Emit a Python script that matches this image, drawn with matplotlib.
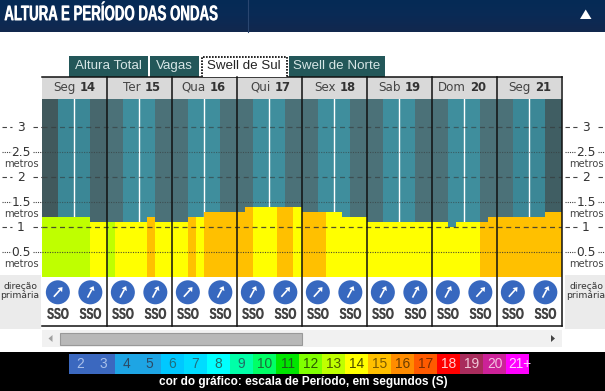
import numpy as np
import matplotlib
matplotlib.use('Agg')
import matplotlib.pyplot as plt
from matplotlib.patches import Circle, Rectangle, Polygon
from matplotlib.colors import LinearSegmentedColormap
from matplotlib.patheffects import AbstractPathEffect
from matplotlib.transforms import Affine2D

# ---------- data ----------
days = ['Seg', 'Ter', 'Qua', 'Qui', 'Sex', 'Sab', 'Dom', 'Seg']
dates = ['14', '15', '16', '17', '18', '19', '20', '21']
heights = [1.2,1.2,1.2,1.2,1.2,1.2,1.1,1.1,
           1.1,1.1,1.1,1.1,1.1,1.2,1.1,1.1,
           1.1,1.1,1.2,1.2,1.3,1.3,1.3,1.3,
           1.3,1.4,1.4,1.4,1.4,1.4,1.4,1.4,
           1.3,1.3,1.3,1.3,1.3,1.2,1.2,1.2,
           1.1,1.1,1.1,1.1,1.1,1.1,1.1,1.1,
           1.1,1.1,1.0,1.1,1.1,1.1,1.1,1.2,
           1.2,1.2,1.2,1.2,1.2,1.2,1.3,1.3]
periods = [13,13,13,13,13,13,14,14,
           13,14,14,14,14,15,14,14,
           14,14,15,14,15,15,15,15,
           15,15,14,14,14,15,15,14,
           15,15,15,14,14,14,14,14,
           14,14,14,14,14,14,14,14,
           14,14,14,14,14,14,15,15,
           15,15,15,15,15,15,15,15]
direction = ['SSO'] * 16
arrow_deg = [42, 28, 28, 28, 42, 28, 28, 42, 42, 28, 28, 28, 28, 42, 42, 28]
y_labels = [3, 2.5, 2, 1.5, 1, 0.5]
scale_labels = ['2','3','4','5','6','7','8','9','10','11','12','13','14','15','16','17','18','19','20','21+']
scale_colors = ['#3b68bf','#3b68bf','#1ea5e4','#1ea5e4','#00c8ff','#00dcff','#00ffff','#00ffa8',
                '#00ff66','#00e600','#80ff00','#bfff00','#ffff00','#ffc000','#ff8c00','#ff5a00',
                '#ff0000','#a82c5c','#cc2298','#ff00ff']
scale_text = ['#a9c0ea','#a9c0ea','#2b4a66','#2b4a66','#1f6f80','#1f6f80','#226b66','#226b66',
              '#1f6a3a','#1f5a1f','#2b5a00','#4a5a00','#4a4a00','#7a5a00','#6a3c00','#7a2c00',
              '#ffd0d0','#f0c8d8','#f4c0e0','#ffd0ff']
tabs = ['Altura Total', 'Vagas', 'Swell de Sul', 'Swell de Norte']
period_map = {int(k.rstrip('+')): c for k, c in zip(scale_labels, scale_colors)}

FONT = 'Liberation Sans'
W, H = 605, 391


class Squeeze(AbstractPathEffect):
    """Draw real text narrower, as the site's condensed font is not installed."""
    def __init__(self, sx, anchor, offsets=(0,)):
        super().__init__()
        self.sx, self.anchor, self.offsets = sx, anchor, offsets

    def draw_path(self, renderer, gc, tpath, affine, rgbFace=None):
        for dx in self.offsets:
            t = affine + Affine2D().translate(-self.anchor, 0).scale(self.sx, 1).translate(self.anchor + dx, 0)
            renderer.draw_path(gc, tpath, t, rgbFace)


fig = plt.figure(figsize=(W/100, H/100), dpi=100, facecolor='white')
page = fig.add_axes([0, 0, 1, 1])
page.set_xlim(0, W); page.set_ylim(H, 0); page.axis('off')


def rect(x0, y0, x1, y1, c, z=1, **kw):
    page.add_patch(Rectangle((x0, y0), x1-x0, y1-y0, fc=c, ec='none', zorder=z, **kw))


# title bar with gradient
grad = np.linspace(0, 1, 32)[:, None]
cm = LinearSegmentedColormap.from_list('nav', ['#052a55', '#0a2a55', '#12284e'])
page.imshow(grad, extent=(0, W, 32, 0), cmap=cm, aspect='auto', zorder=1)
page.set_xlim(0, W); page.set_ylim(H, 0)
page.plot([247.5, 247.5], [0, 32], color='#2a4670', lw=0.8, zorder=2)
page.text(4, 14.8, 'ALTURA E PERÍODO DAS ONDAS', color='white', fontsize=15.4, fontweight='bold',
          family=FONT, va='center', ha='left', zorder=3,
          path_effects=[Squeeze(0.62, 4, offsets=(0, 0.6))])
page.add_patch(Polygon([[580, 19], [591.5, 19], [585.7, 9.5]], fc='white', ec='none', zorder=3))

# tabs
tab_edges = [(69, 148), (150, 199), (201, 287), (289, 385)]
for name, (a, b) in zip(tabs, tab_edges):
    active = name == 'Swell de Sul'
    z = 7 if active else 2
    rect(a, 56, b, 77.4 if active else 77, 'white' if active else '#235759', z=z)
    if active:
        page.plot([a+.5, a+.5, b-.5, b-.5], [77, 56.5, 56.5, 77], color='black', lw=1.2,
                  ls=(0, (1, 0.8)), zorder=8)
    page.text((a+b)/2, 66.2, name, color='#222222' if active else '#d6e6e6', fontsize=9.6,
              family=FONT, ha='center', va='center', zorder=8)

# side gray boxes
rect(0, 275, 41, 329, '#ebebeb')
rect(565, 275, 605, 329, '#ebebeb')
for cx in (20, 586):
    page.text(cx, 290.8, 'direção\nprimária', color='#333333', fontsize=6.6, family='DejaVu Sans',
              ha='center', va='center', linespacing=1.05, zorder=3)

# header cells
x0, dw = 41.6, 65.0
rect(42, 77, 561, 98.5, '#d9d9d9')

# main chart axes, data scale: slot index and metres
top_v = (276.7 - 98.5) / 50.0
ax = fig.add_axes([x0/W, (H-276.7)/H, dw*8/W, (276.7-98.5)/H], facecolor='none')
ax.set_xlim(0, 64); ax.set_ylim(0, top_v); ax.axis('off')
slots = np.arange(64)
is_day = (slots % 8 >= 2) & (slots % 8 < 6)
edge_shades = {0: '#41595d', 1: '#41595d', 6: '#47676d', 7: '#47676d', 62: '#405e63', 63: '#405e63'}
for i in slots:
    if is_day[i]:
        col = '#3b8796' if i < 8 or i > 55 else '#3f8e9d'
    else:
        col = edge_shades.get(int(i), '#4b7178')
    ax.bar(i, top_v, width=1.02, align='edge', color=col, zorder=1, lw=0)
for d in range(8):
    ax.plot([d*8+4, d*8+4], [0, top_v], color='white', lw=1, zorder=2)
ax.bar(slots, heights, width=1.0, align='edge', color=[period_map[p] for p in periods], zorder=3, lw=0)
for v in y_labels:
    fade = 0.55 if v > 1.2 else 0.85
    if float(v).is_integer():
        ax.axhline(v, color='#333333', lw=0.9, ls=(0, (4, 3)), zorder=4, alpha=fade)
    else:
        ax.axhline(v, color='#333333', lw=0.8, ls=(0, (1, 1.2)), zorder=4, alpha=fade)
sep_page = [x0 + dw*d for d in range(1, 9)]
page.plot([42, 562], [76.5, 76.5], color='#111111', lw=1.1, zorder=6)
page.plot([42, 562], [326, 326], color='#111111', lw=1.1, zorder=6)
ax.set_zorder(2); page.set_zorder(1)

overlay = fig.add_axes([0, 0, 1, 1], facecolor='none')
overlay.set_xlim(0, W); overlay.set_ylim(H, 0); overlay.axis('off'); overlay.set_zorder(3)
for xp in sep_page:
    overlay.plot([xp, xp], [77, 326], color='#111111', lw=1.1, zorder=6)

# day header text
for d, (n, t) in enumerate(zip(days, dates)):
    c = x0 + dw*d + dw/2
    overlay.text(c+1.3, 87.3, n, ha='right', va='center', fontsize=8.6, family='DejaVu Sans', color='#444444')
    overlay.text(c+5.6, 87.3, t, ha='left', va='center', fontsize=8.4, family='DejaVu Sans', fontweight='bold', color='#333333')


# y labels both sides
def ylab(v, cx, left, right):
    y = 276.7 - v*50
    dashed = float(v).is_integer()
    style = (0, (4, 3)) if dashed else (0, (1, 1))
    hw = 9.5 if dashed else 10
    overlay.plot([left, cx-hw], [y, y], color='#444444', lw=0.8, ls=style)
    overlay.plot([cx+hw+2, right], [y, y], color='#444444', lw=0.8, ls=style)
    overlay.text(cx, y+0.4, f'{v:g}', ha='center', va='center', fontsize=8.8, family='DejaVu Sans', color='#333333')
    if not dashed:
        overlay.text(cx, y+12.7, 'metros', ha='center', va='center', fontsize=7.1, family='DejaVu Sans', color='#444444')


for v in y_labels:
    ylab(v, 21, 2, 42)
    ylab(v, 586, 565, 605)

# icons
for i, (lab, deg) in enumerate(zip(direction, arrow_deg)):
    cx = x0 + dw*(i//2) + dw*(0.25 + 0.5*(i % 2))
    cy = 292.3
    overlay.add_patch(Circle((cx, cy), 12, fc='#3768bf', ec='none', zorder=3))
    a = np.deg2rad(deg)
    ux, uy = np.sin(a), -np.cos(a)
    px, py = -uy, ux
    tail = (cx - 6*ux, cy - 6*uy)
    base = (cx + 3*ux, cy + 3*uy)
    tip = (cx + 7*ux, cy + 7*uy)
    overlay.plot([tail[0], base[0]], [tail[1], base[1]], color='white', lw=1.2, zorder=4, solid_capstyle='butt')
    overlay.add_patch(Polygon([tip, (base[0]+3*px, base[1]+3*py), (base[0]-3*px, base[1]-3*py)],
                              fc='white', ec='none', zorder=4))
    overlay.text(cx, 314.3, lab, ha='center', va='center', fontsize=11.2, fontweight='bold',
                 family=FONT, color='#444444', zorder=4,
                 path_effects=[Squeeze(0.66, cx - 0.3, offsets=(0, 0.6))])

# scrollbar
rect(42, 330, 562, 347, '#f1f1f1')
page.add_patch(Rectangle((59.5, 332.5), 242, 12, fc='#b8b8b8', ec='#999999', lw=0.8, zorder=3))
page.add_patch(Polygon([[52.5, 335], [52.5, 342], [48.5, 338.5]], fc='#a0a0a0', ec='none', zorder=3))
page.add_patch(Polygon([[551, 335], [551, 342], [555, 338.5]], fc='#444444', ec='none', zorder=3))

# legend
rect(0, 352, W, H, 'black')
lx, lw_ = 69, 23
for i, (lab, col, tc) in enumerate(zip(scale_labels, scale_colors, scale_text)):
    rect(lx+i*lw_, 354, lx+(i+1)*lw_, 374, col, z=2)
    tx = lx+i*lw_+lw_/2
    if lab == '21+':
        tx = lx+i*lw_+14
    page.text(tx, 363.8, lab, ha='center', va='center', fontsize=9.9, family=FONT, color=tc, zorder=3)
page.text(303, 382.5, 'cor do gráfico: escala de Período, em segundos (S)', color='white', fontsize=8.5,
          fontweight='bold', family=FONT, ha='center', va='center', zorder=3)

fig.savefig('out.png', dpi=100)
